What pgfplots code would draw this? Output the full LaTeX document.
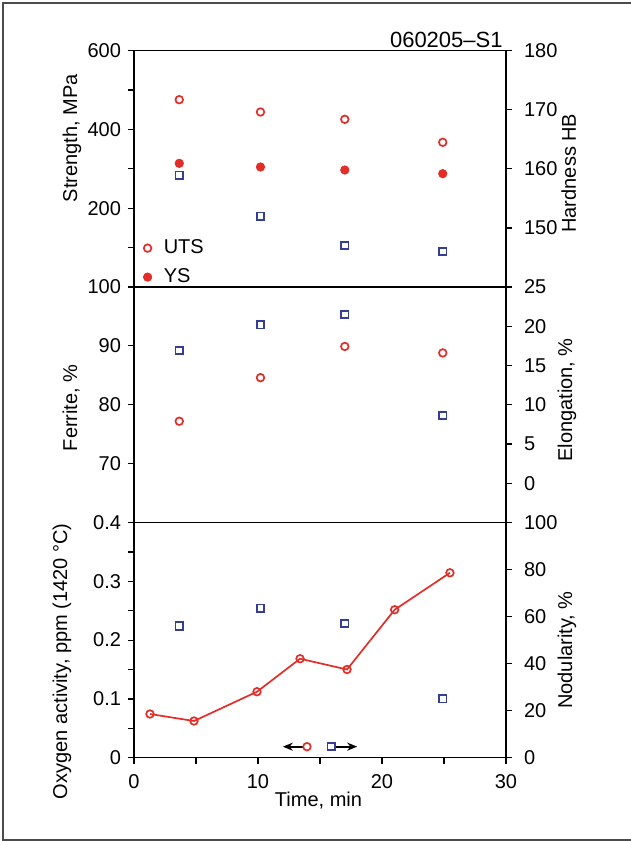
\documentclass[border=0pt]{standalone}
\usepackage{pgfplots}
\pgfplotsset{compat=1.18}
\usepackage{fontspec}
\setmainfont{Liberation Sans}
\usetikzlibrary{arrows.meta}
\definecolor{myred}{RGB}{226,46,40}
\definecolor{myblue}{RGB}{52,62,150}
\definecolor{framegray}{RGB}{75,75,75}
\newcommand{\fs}{\fontsize{10}{12}\selectfont}
\pgfplotsset{
  panel/.style={
    width=186pt, scale only axis, xmin=0, xmax=30,
    anchor=south west,
    tick align=outside, major tick length=3pt, minor tick length=3pt,
    tick style={black, line width=0.6pt},
    axis line style={line width=0.6pt},
    /pgf/number format/assume math mode=true,
    tick label style={font=\fs},
    label style={font=\fs},
    clip=false,
  },
  leftax/.style={panel, ytick pos=left, xtick pos=bottom},
  rightax/.style={panel, axis y line*=right, axis x line=none, ytick pos=right,
    yticklabel style={xshift=2.5pt}},
  redo/.style={only marks, mark=o, color=myred, mark size=1.9pt, line width=0.85pt},
  redf/.style={only marks, mark=*, color=myred, mark size=2.1pt},
  blues/.style={only marks, mark=square, color=myblue, mark size=1.85pt, line width=0.85pt},
}
\begin{document}
\begin{tikzpicture}
\useasboundingbox (0,0) rectangle (315.5pt,420.5pt);
\draw[framegray, line width=1pt] (316pt,419pt) -- (1.6pt,419pt) -- (1.6pt,0.6pt) -- (316pt,0.6pt);
\node[anchor=base east, font=\fontsize{11}{13}\selectfont, inner sep=0pt] at (251.5pt,396.9pt) {060205\textendash S1};

% ---------------- top panel ----------------
\begin{axis}[leftax, at={(67pt,277pt)}, height=118.15pt,
  ymin=0, ymax=600, ytick={200,400,600}, minor ytick={100,300,500}, xtick=\empty,
  ylabel={Strength, MPa},
  ylabel style={at={(axis description cs:-0.153,0.63)}, anchor=base},
  legend cell align=left,
  legend image code/.code={\draw[#1] plot coordinates {(0pt,0pt)};},
  legend style={at={(axis description cs:0,0)}, anchor=south west, draw=none, fill=none,
    xshift=4.5pt, yshift=-1.5pt, inner sep=0pt, row sep=2pt, font=\fs,
    column sep=4pt}]
\addplot[redo] coordinates {(3.65,475.6) (10.2,444.3) (17.0,425.8) (24.9,367.4)};
\addlegendentry{UTS}
\addplot[redf] coordinates {(3.65,314) (10.2,304.7) (17.0,297) (24.9,287.7)};
\addlegendentry{YS}
\end{axis}
\begin{axis}[rightax, at={(67pt,277pt)}, height=118.15pt,
  ymin=140, ymax=180, ytick={150,160,170,180},
  ylabel={Hardness HB},
  ylabel style={at={(axis description cs:1.188,0.482)}, anchor=base}]
\addplot[blues] coordinates {(3.65,158.9) (10.2,152.0) (17.0,147.0) (24.9,146.0)};
\end{axis}

% ---------------- middle panel ----------------
\begin{axis}[leftax, at={(67pt,159.25pt)}, height=117.75pt,
  ymin=60, ymax=100, ytick={70,80,90,100}, xtick=\empty,
  ylabel={Ferrite, \%},
  ylabel style={at={(axis description cs:-0.153,0.487)}, anchor=base}]
\addplot[redo] coordinates {(3.65,77.2) (10.2,84.6) (17.0,89.9) (24.9,88.8)};
\end{axis}
\begin{axis}[rightax, at={(67pt,159.25pt)}, height=117.75pt,
  ymin=-5, ymax=25, ytick={0,5,10,15,20,25},
  ylabel={Elongation, \%},
  ylabel style={at={(axis description cs:1.178,0.52)}, anchor=base}]
\addplot[blues] coordinates {(3.65,16.9) (10.2,20.2) (17.0,21.5) (24.9,8.64)};
\end{axis}

% ---------------- bottom panel ----------------
\begin{axis}[leftax, at={(67pt,41.65pt)}, height=117.6pt,
  ymin=0, ymax=0.4, ytick={0,0.1,0.2,0.3,0.4}, minor ytick={0.05,0.15,0.25,0.35},
  xtick={0,10,20,30}, minor xtick={5,15,25},
  xticklabel style={yshift=-2pt},
  xlabel={Time, min},
  xlabel style={at={(axis description cs:0.496,-0.2096)}, anchor=base},
  ylabel={Oxygen activity, ppm (1420 °C)},
  ylabel style={at={(axis description cs:-0.18,0.41)}, anchor=base}]
\addplot[color=myred, line width=0.85pt, mark=o, mark size=1.9pt, mark options={fill=white}]
  coordinates {(1.29,0.0743) (4.84,0.0624) (9.92,0.1122) (13.39,0.1683) (17.18,0.150) (21.02,0.2516) (25.48,0.3145)};
\addplot[black, line width=0.9pt, -{Stealth[length=5pt,width=4pt]}] coordinates {(13.6,0.0187) (12.0,0.0187)};
\addplot[redo] coordinates {(13.95,0.0187)};
\end{axis}
\begin{axis}[rightax, at={(67pt,41.65pt)}, height=117.6pt,
  ymin=0, ymax=100, ytick={0,20,40,60,80,100},
  ylabel={Nodularity, \%},
  ylabel style={at={(axis description cs:1.178,0.458)}, anchor=base}]
\addplot[blues] coordinates {(3.65,56.0) (10.2,63.6) (17.0,57.0) (24.9,25.1)};
\addplot[black, line width=0.9pt, -{Stealth[length=5pt,width=4pt]}] coordinates {(16.25,4.7) (18.0,4.7)};
\addplot[blues] coordinates {(15.9,4.7)};
\end{axis}
\end{tikzpicture}
\end{document}
